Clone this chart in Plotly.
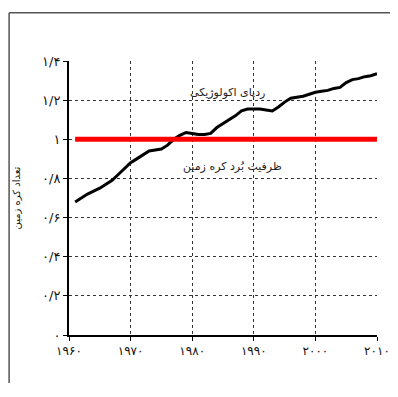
import plotly.graph_objects as go

years = list(range(1961, 2011))
footprint = [0.68, 0.70, 0.72, 0.735, 0.75, 0.77, 0.79, 0.82, 0.85, 0.88,
             0.90, 0.92, 0.94, 0.945, 0.95, 0.97, 1.00, 1.02, 1.035, 1.03,
             1.025, 1.025, 1.03, 1.06, 1.08, 1.10, 1.12, 1.145, 1.155, 1.155,
             1.155, 1.15, 1.145, 1.165, 1.19, 1.21, 1.215, 1.22, 1.23, 1.24,
             1.245, 1.25, 1.26, 1.265, 1.29, 1.305, 1.31, 1.32, 1.325, 1.335]
capacity_years = [1961, 2010]
capacity = [1, 1]

x_ticks = [1960, 1970, 1980, 1990, 2000, 2010]
x_labels = ["۱۹۶۰", "۱۹۷۰", "۱۹۸۰", "۱۹۹۰", "۲۰۰۰", "۲۰۱۰"]
y_ticks = [0, 0.2, 0.4, 0.6, 0.8, 1.0, 1.2, 1.4]
y_labels = ["۰", "۰/۲", "۰/۴", "۰/۶", "۰/۸", "۱", "۱/۲", "۱/۴"]

label_footprint = "ردپای اکولوژیکی"
label_capacity = "ظرفیت بُرد کره زمین"
y_title = "تعداد کره زمین"

fig = go.Figure()
fig.add_trace(go.Scatter(x=years, y=footprint, mode="lines",
                         line=dict(color="black", width=3), showlegend=False))
fig.add_trace(go.Scatter(x=capacity_years, y=capacity, mode="lines",
                         line=dict(color="#ff0000", width=5), showlegend=False))

fig.add_annotation(x=1985.8, y=1.237, text=label_footprint, showarrow=False,
                   font=dict(size=11, color="#222", family="DejaVu Sans"))
fig.add_annotation(x=1986.5, y=0.863, text=label_capacity, showarrow=False,
                   font=dict(size=11, color="#222", family="DejaVu Sans"))

# outer frame (top and left edges visible)
fig.add_shape(type="line", xref="paper", yref="paper",
              x0=-0.1945, x1=-0.1945, y0=-0.2, y1=1.176,
              line=dict(color="#555", width=1.5))
fig.add_shape(type="line", xref="paper", yref="paper",
              x0=-0.1945, x1=1.06, y0=1.176, y1=1.176,
              line=dict(color="#555", width=1.5))

fig.update_layout(
    width=382, height=375,
    margin=dict(l=61, r=13, t=53, b=48),
    paper_bgcolor="white", plot_bgcolor="white",
    font=dict(family="DejaVu Sans", color="#111"),
    xaxis=dict(range=[1960, 2010], tickvals=x_ticks, ticktext=x_labels,
               showgrid=True, gridcolor="#333", griddash="dot", gridwidth=1,
               showline=True, linecolor="black", linewidth=2,
               ticks="outside", ticklen=4, tickcolor="black",
               tickfont=dict(size=12), zeroline=False, automargin=False),
    yaxis=dict(range=[0, 1.4], tickvals=y_ticks, ticktext=y_labels,
               showgrid=True, gridcolor="#333", griddash="dot", gridwidth=1,
               showline=True, linecolor="black", linewidth=2,
               ticks="outside", ticklen=4, tickcolor="black",
               tickfont=dict(size=13), zeroline=False, automargin=False,
               title=dict(text=y_title, font=dict(size=10), standoff=20)),
)

fig.write_html("out.html")
